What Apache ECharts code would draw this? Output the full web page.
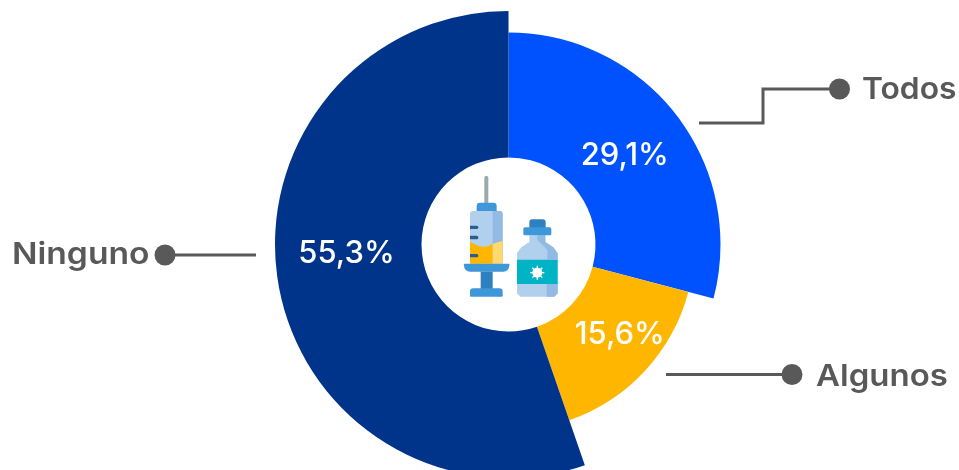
<!DOCTYPE html>
<html>
<head>
<meta charset="utf-8">
<style>html,body{margin:0;padding:0;background:#fff}#chart{width:959px;height:470px}</style>
<script src="https://cdn.jsdelivr.net/npm/echarts@6/dist/echarts.min.js"></script>
</head>
<body>
<div id="chart"></div>
<script>
const categories = ["Todos", "Algunos", "Ninguno"];
const values = [29.1, 15.6, 55.3];
const valueLabels = ["29,1%", "15,6%", "55,3%"];
const colors = ["#0052ff", "#ffb600", "#00338a"];
const outerRadius = [212, 186, 233.5];
const labelOffsets = [[-4.5, 4], [9, -5], [-1, -18]];

const FONT = "Inter";
const GREY = "#595959";
const center = [508.5, 244.5];

// one pie per slice because each slice has its own radius
const series = categories.map((name, i) => ({
  type: "pie",
  name,
  silent: true,
  startAngle: 90,
  clockwise: true,
  center,
  radius: [87, outerRadius[i]],
  animation: false,
  labelLine: { show: false },
  emphasis: { disabled: true },
  data: categories.map((c, j) => ({
    name: c,
    value: values[j],
    itemStyle: { color: j === i ? colors[i] : "transparent" },
    label: j === i
      ? {
          show: true,
          position: "inside",
          formatter: valueLabels[i],
          offset: labelOffsets[i],
          color: "#fff",
          fontFamily: FONT,
          fontSize: 31,
          fontWeight: 500,
        }
      : { show: false },
  })),
}));

const line = (points) => ({
  type: "polyline",
  z: 50,
  shape: { points },
  style: { stroke: GREY, lineWidth: 3, fill: null },
});
const dot = (cx, cy) => ({ type: "circle", z: 51, shape: { cx, cy, r: 10.5 }, style: { fill: GREY } });
// the source face is wider than anything installed, so stretch it a little
const outerText = (text, x, y, stretch) => ({
  type: "text",
  z: 51,
  x,
  y,
  scaleX: stretch,
  style: { text, fill: GREY, fontFamily: FONT, fontSize: 30, fontWeight: 600, verticalAlign: "middle" },
});

// icon, drawn in 3x coordinates of its own box
const r = (x, y, w, h, fill, rad) => ({ type: "rect", shape: { x, y, width: w, height: h, r: rad || 0 }, style: { fill } });
const poly = (points, fill) => ({ type: "polygon", shape: { points }, style: { fill } });

const spikes = [];
for (let a = 0; a < 8; a++) {
  const t = (a * Math.PI) / 4;
  spikes.push({
    type: "line",
    shape: { x1: 352, y1: 338, x2: 352 + 21 * Math.cos(t), y2: 338 + 21 * Math.sin(t) },
    style: { stroke: "#fff", lineWidth: 4 },
  });
}

const icon = {
  type: "group",
  x: 420,
  y: 160,
  scaleX: 1 / 3,
  scaleY: 1 / 3,
  z: 60,
  children: [
    r(193, 48, 12, 84, "#9aa9a9", 5),
    r(170, 128, 60, 30, "#3d97d8", [10, 10, 0, 0]),
    r(150, 153, 98, 157, "#b0d0ee", [10, 10, 0, 0]),
    r(218, 153, 30, 157, "#93bae3", [0, 10, 0, 0]),
    poly([[150, 245], [170, 256], [190, 261], [205, 258], [218, 252], [218, 311], [150, 311]], "#ffb600"),
    poly([[218, 252], [235, 246], [248, 243], [248, 311], [218, 311]], "#ffd86e"),
    r(150, 197, 25, 10, "#2d5d8c", [0, 5, 5, 0]),
    r(150, 227, 25, 11, "#2d5d8c", [0, 5, 5, 0]),
    r(150, 282, 25, 10, "#2d5d8c", [0, 5, 5, 0]),
    r(132, 311, 136, 24, "#3d97d8", [2, 2, 18, 18]),
    r(182, 335, 36, 52, "#2f80c0"),
    r(150, 385, 98, 25, "#3d97d8", [10, 10, 3, 3]),
    r(328, 178, 49, 30, "#2f80c0", [9, 9, 0, 0]),
    poly([[328, 226], [376, 226], [376, 246], [400, 262], [413, 280], [413, 400], [403, 410], [301, 410], [291, 400], [291, 280], [304, 262], [328, 246]], "#b0d0ee"),
    poly([[352, 226], [376, 226], [376, 246], [400, 262], [413, 280], [413, 298], [382, 298], [382, 270], [352, 240]], "#93bae3"),
    poly([[380, 372], [413, 372], [413, 400], [403, 410], [380, 410]], "#93bae3"),
    r(310, 202, 84, 24, "#3d97d8", 5),
    r(291, 299, 122, 73, "#00b4c5"),
    ...spikes,
    { type: "circle", shape: { cx: 352, cy: 338, r: 15 }, style: { fill: "#fff" } },
  ],
};

const chart = echarts.init(document.getElementById("chart"), null, { renderer: "canvas" });
chart.setOption({
  animation: false,
  backgroundColor: "#fff",
  tooltip: { show: false },
  legend: { show: false },
  series,
  graphic: [
    line([[699, 123], [763, 123], [763, 89], [839, 89]]),
    dot(839.5, 89),
    outerText("Todos", 862, 90, 1.06),
    line([[666, 374.5], [791, 374.5]]),
    dot(792, 374.5),
    outerText("Algunos", 816, 377, 1.1),
    line([[165, 255], [256, 255]]),
    dot(165, 255),
    outerText("Ninguno", 12, 255, 1.12),
    icon,
  ],
});
</script>
</body>
</html>
